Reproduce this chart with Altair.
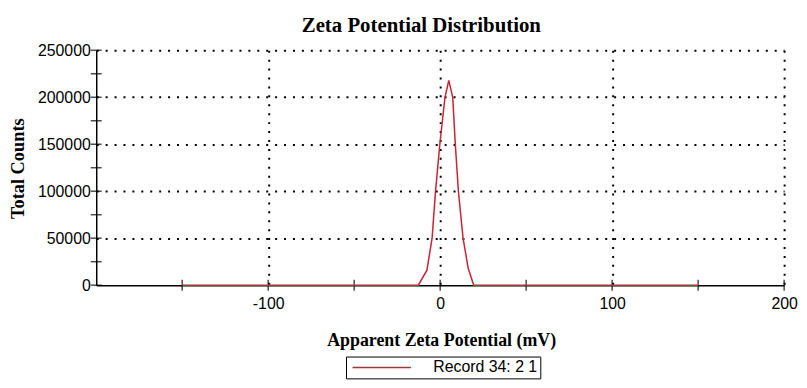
import altair as alt
import pandas as pd

# Zeta potential (mV) and total counts
zeta_mv = [-150, -12.7, -7.7, -4.7, -2.7, -0.2, 2.8, 5.0, 7.3, 8.8, 10.6, 13.3, 16.3, 19.5, 150]
counts = [0, 0, 16000, 50000, 100000, 150000, 200000, 218000, 200000, 150000, 100000, 50000, 18000, 0, 0]
series_name = "Record 34: 2 1"

x_ticks = [-150, -100, -50, 0, 50, 100, 150, 200]
y_ticks = [0, 25000, 50000, 75000, 100000, 125000, 150000, 175000, 200000, 225000, 250000]
x_min, x_max = -200, 200
y_min, y_max = 0, 250000

df = pd.DataFrame({"zeta": zeta_mv, "counts": counts, "series": [series_name] * len(zeta_mv)})
xt = pd.DataFrame({"zeta": x_ticks, "counts": [y_min] * len(x_ticks)})
yt = pd.DataFrame({"zeta": [x_min] * len(y_ticks), "counts": y_ticks})

serif = "Liberation Serif"
sans = "Liberation Sans"

x_scale = alt.Scale(domain=[x_min, x_max], nice=False, zero=False)
y_scale = alt.Scale(domain=[y_min, y_max], nice=False)

x_axis = alt.Axis(
    values=x_ticks,
    labelExpr="datum.value % 100 === 0 ? '' + datum.value : ''",
    labelFlush=False,
    labelFont=sans, labelFontSize=16, labelColor="black", labelPadding=11,
    ticks=False,
    domainColor="black", domainWidth=1.5,
    grid=True, gridColor="black", gridWidth=2, gridDash=[2, 7],
    gridOpacity={"condition": {"test": "datum.value % 100 === 0", "value": 1}, "value": 0},
    title="Apparent Zeta Potential (mV)",
    titleFont=serif, titleFontSize=18, titleFontWeight="bold", titleColor="black",
    titleX=348, titleY=56, titleBaseline="middle",
)

y_axis = alt.Axis(
    values=y_ticks,
    labelExpr="datum.value % 50000 === 0 ? '' + datum.value : ''",
    labelFlush=False,
    labelFont=sans, labelFontSize=16, labelColor="black", labelPadding=6,
    ticks=False,
    domainColor="black", domainWidth=1.5,
    grid=True, gridColor="black", gridWidth=2, gridDash=[2, 7],
    gridOpacity={"condition": {"test": "datum.value % 50000 === 0 && datum.value > 0", "value": 1}, "value": 0},
    title="Total Counts",
    titleFont=serif, titleFontSize=18.5, titleFontWeight="bold", titleColor="black",
    titleX=-79, titleY=119, titleAngle=-90, titleBaseline="middle", titleAlign="center",
)

line = (
    alt.Chart(df)
    .mark_line(strokeWidth=1.5)
    .encode(
        x=alt.X("zeta:Q", scale=x_scale, axis=x_axis),
        y=alt.Y("counts:Q", scale=y_scale, axis=y_axis),
        color=alt.Color(
            "series:N",
            scale=alt.Scale(range=["#cc2233"]),
            legend=alt.Legend(
                title=None,
                orient="none",
                legendX=252,
                legendY=309,
                symbolType="M-0.8,0H9.9",
                symbolSize=121,
                symbolStrokeWidth=1.5,
                labelFont=sans,
                labelFontSize=16,
                labelColor="black",
                labelOffset=69,
                padding=3,
                strokeColor="black",
                fillColor="white",
            ),
        ),
    )
)

x_tick_marks = (
    alt.Chart(xt)
    .mark_tick(orient="vertical", size=11, thickness=1.5, color="black")
    .encode(x=alt.X("zeta:Q", scale=x_scale), y=alt.Y("counts:Q", scale=y_scale))
)

y_tick_marks = (
    alt.Chart(yt)
    .mark_tick(orient="horizontal", size=11, thickness=1.5, color="black")
    .encode(x=alt.X("zeta:Q", scale=x_scale), y=alt.Y("counts:Q", scale=y_scale))
)

chart = (
    alt.layer(x_tick_marks, y_tick_marks, line)
    .properties(
        width=694,
        height=237,
        autosize=alt.AutoSizeParams(type="none"),
        padding={"left": 89, "top": 41, "right": 15, "bottom": 94},
        background="white",
        title=alt.TitleParams(
            "Zeta Potential Distribution",
            font=serif, fontSize=21, fontWeight="bold", color="black",
            anchor="middle", dx=-19, offset=6,
        ),
    )
    .configure_view(stroke=None)
)

chart.save("out.html", embed_options={"renderer": "svg", "actions": False})
